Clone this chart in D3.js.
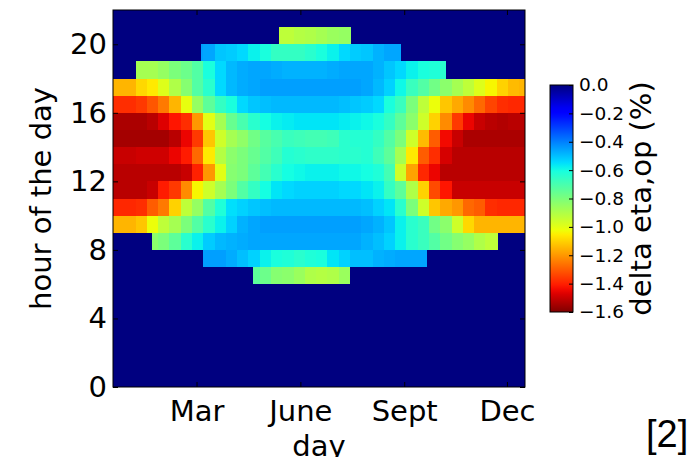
<!DOCTYPE html>
<html>
<head>
<meta charset="utf-8">
<script src="https://cdn.jsdelivr.net/npm/d3@7"></script>
<style>
  body { margin: 0; background: #fff; }
  svg text { font-family: "DejaVu Sans", sans-serif; fill: #000; }
</style>
</head>
<body>
<svg width="691" height="457"></svg>
<script>
// hour rows (each row spans hour .. hour+1)
var hours = [6, 7, 8, 9, 10, 11, 12, 13, 14, 15, 16, 17, 18, 19, 20];
// first / last day of the year where the hour has sun
var sunStart = [124, 80, 34.5, 0, 0, 0, 0, 0, 0, 0, 0, 0, 20.7, 78, 146.7];
var sunEnd   = [210, 278, 341, 365, 365, 365, 365, 365, 365, 365, 365, 365, 294.6, 255, 210.2];

// day bins (10-day columns)
var dayEdges = [0, 10, 20, 30, 40, 50, 60, 70, 80, 90, 100, 110, 120, 130, 140, 150, 160, 170, 180,
  190, 200, 210, 220, 230, 240, 250, 260, 270, 280, 290, 300, 310, 320, 330, 340, 350, 360, 365];

// delta eta,op (%) per hour row, one value per day bin (null = night)
var etaRows = [
  [null, null, null, null, null, null, null, null, null, null, null, null,
   -0.74, -0.77, -0.82, -0.83, -0.86, -0.90, -0.91, -0.90, -0.86,
   null, null, null, null, null, null, null, null, null, null, null, null, null, null, null, null],
  [null, null, null, null, null, null, null, null,
   -0.45, -0.45, -0.47, -0.50, -0.53, -0.58, -0.61, -0.62, -0.64, -0.62, -0.61, -0.56, -0.53, -0.50,
   -0.50, -0.48, -0.47, -0.46, -0.46, -0.46,
   null, null, null, null, null, null, null, null, null],
  [null, null, null,
   -0.83, -0.80, -0.74, -0.64, -0.58, -0.52, -0.49, -0.48, -0.47,
   -0.46, -0.46, -0.46, -0.46, -0.46, -0.46, -0.46, -0.46, -0.46, -0.46,
   -0.48, -0.50, -0.53, -0.58, -0.64, -0.67, -0.72, -0.78, -0.82, -0.85, -0.90, -0.93, -0.93,
   null, null],
  [-1.15, -1.15, -1.12, -1.02, -0.93, -0.88, -0.80, -0.72, -0.64, -0.58, -0.53, -0.48,
   -0.46, -0.45, -0.45, -0.45, -0.45, -0.45, -0.45, -0.45, -0.45, -0.45, -0.46,
   -0.48, -0.51, -0.58, -0.64, -0.67, -0.78, -0.83, -0.96, -1.09, -1.15, -1.15, -1.15, -1.15, -1.15],
  [-1.39, -1.39, -1.38, -1.30, -1.25, -1.10, -0.93, -0.85, -0.72, -0.62, -0.55, -0.53, -0.51, -0.50,
   -0.49, -0.49, -0.49, -0.49, -0.49, -0.49, -0.49, -0.49,
   -0.50, -0.53, -0.56, -0.64, -0.80, -0.96, -1.12, -1.17, -1.20, -1.28, -1.30, -1.38, -1.39, -1.39, -1.39],
  [-1.52, -1.52, -1.52, -1.50, -1.41, -1.36, -1.22, -1.04, -0.96, -0.88, -0.80, -0.72, -0.66, -0.60,
   -0.56, -0.54, -0.53, -0.53, -0.53, -0.53, -0.54, -0.54, -0.56, -0.58,
   -0.66, -0.74, -0.90, -1.10, -1.33, -1.42, -1.50, -1.50, -1.50, -1.50, -1.50, -1.50, -1.50],
  [-1.52, -1.52, -1.52, -1.52, -1.52, -1.52, -1.50, -1.40, -1.20, -1.00, -0.82, -0.80, -0.74, -0.69, -0.64,
   -0.60, -0.59, -0.58, -0.58, -0.58, -0.59, -0.59, -0.60,
   -0.62, -0.69, -0.96, -1.18, -1.39, -1.45, -1.52, -1.52, -1.52, -1.52, -1.52, -1.52, -1.52, -1.52],
  [-1.50, -1.50, -1.49, -1.49, -1.49, -1.45, -1.41, -1.28, -1.06, -0.91, -0.83, -0.80, -0.76, -0.72, -0.68,
   -0.63, -0.64, -0.65, -0.65, -0.65, -0.64, -0.64, -0.63,
   -0.68, -0.74, -0.88, -1.06, -1.30, -1.38, -1.48, -1.52, -1.52, -1.52, -1.52, -1.52, -1.52, -1.52],
  [-1.55, -1.55, -1.55, -1.55, -1.55, -1.52, -1.45, -1.36, -1.12, -0.96, -0.88, -0.84, -0.78, -0.73, -0.70,
   -0.67, -0.68, -0.69, -0.69, -0.68, -0.64, -0.63, -0.63,
   -0.66, -0.72, -0.80, -0.96, -1.14, -1.30, -1.44, -1.50, -1.54, -1.54, -1.54, -1.54, -1.54, -1.54],
  [-1.54, -1.54, -1.54, -1.52, -1.47, -1.42, -1.38, -1.20, -1.00, -0.88, -0.76, -0.70, -0.64,
   -0.60, -0.58, -0.57, -0.56, -0.56, -0.56, -0.56, -0.57, -0.58, -0.59,
   -0.61, -0.66, -0.74, -0.83, -0.96, -1.10, -1.22, -1.36, -1.45, -1.50, -1.52, -1.53, -1.52, -1.52],
  [-1.38, -1.38, -1.36, -1.31, -1.25, -1.15, -1.01, -0.85, -0.74, -0.66, -0.61, -0.54, -0.51, -0.50,
   -0.49, -0.49, -0.49, -0.49, -0.49, -0.49,
   -0.50, -0.51, -0.52, -0.54, -0.61, -0.67, -0.80, -0.93, -1.02, -1.12, -1.17, -1.22, -1.28, -1.34, -1.38, -1.39, -1.39],
  [-1.15, -1.15, -1.09, -1.06, -0.99, -0.90, -0.82, -0.72, -0.64, -0.54, -0.49, -0.47,
   -0.46, -0.45, -0.45, -0.45, -0.45, -0.45, -0.45, -0.45, -0.45, -0.45, -0.46,
   -0.49, -0.53, -0.59, -0.67, -0.72, -0.78, -0.83, -0.88, -0.93, -0.99, -1.04, -1.10, -1.14, -1.15],
  [null, null,
   -0.88, -0.88, -0.85, -0.80, -0.77, -0.72, -0.61, -0.54, -0.49, -0.47,
   -0.46, -0.46, -0.47, -0.48, -0.48, -0.48, -0.48, -0.47, -0.46, -0.46, -0.46,
   -0.48, -0.51, -0.54, -0.58, -0.61, -0.62, -0.64,
   null, null, null, null, null, null, null],
  [null, null, null, null, null, null, null,
   -0.45, -0.46, -0.51, -0.52, -0.54, -0.58, -0.61, -0.66, -0.66, -0.66, -0.64, -0.61, -0.58, -0.54,
   -0.52, -0.51, -0.48, -0.46, -0.46,
   null, null, null, null, null, null, null, null, null, null, null],
  [null, null, null, null, null, null, null, null, null, null, null, null, null, null,
   -0.93, -0.93, -0.91, -0.90, -0.88, -0.86, -0.85, -0.85,
   null, null, null, null, null, null, null, null, null, null, null, null, null, null, null]
];

var monthTicks = [74, 166, 258, 349];
var monthLabels = ["Mar", "June", "Sept", "Dec"];
var hourTicks = [0, 4, 8, 12, 16, 20];
var cbTicks = [0, -0.2, -0.4, -0.6, -0.8, -1.0, -1.2, -1.4, -1.6];

// matplotlib "jet"
var jr = d3.scaleLinear([0, 0.35, 0.66, 0.89, 1], [0, 0, 1, 1, 0.5]).clamp(true);
var jg = d3.scaleLinear([0, 0.125, 0.375, 0.64, 0.91, 1], [0, 0, 1, 1, 0, 0]).clamp(true);
var jb = d3.scaleLinear([0, 0.11, 0.34, 0.65, 1], [0.5, 1, 1, 0, 0]).clamp(true);
function jet(t) {
  return d3.rgb(255 * jr(t), 255 * jg(t), 255 * jb(t)).formatHex();
}
var norm = d3.scaleLinear([0, -1.6], [0, 1]).clamp(true);
var color = v => jet(norm(v));

var svg = d3.select("svg");
var x = d3.scaleLinear([0, 365], [113, 525]);
var y = d3.scaleLinear([0, 22], [387, 10]);

// night background
svg.append("rect")
  .attr("x", x(0)).attr("y", y(22))
  .attr("width", x(365) - x(0)).attr("height", y(0) - y(22))
  .attr("fill", color(0));

var cells = [];
hours.forEach(function(h, r) {
  etaRows[r].forEach(function(v, i) {
    if (v === null) return;
    var d0 = Math.max(dayEdges[i], sunStart[r]);
    var d1 = Math.min(dayEdges[i + 1], sunEnd[r]);
    if (d1 > d0) cells.push({h: h, d0: d0, d1: d1, v: v});
  });
});

svg.append("g")
  .selectAll("rect")
  .data(cells)
  .join("rect")
  .attr("x", d => x(d.d0))
  .attr("width", d => x(d.d1) - x(d.d0) + 0.4)
  .attr("y", d => y(d.h + 1))
  .attr("height", d => y(d.h) - y(d.h + 1))
  .attr("fill", d => color(d.v))
  .attr("shape-rendering", "crispEdges");

// axes, ticks pointing inward on all four sides
function style(g, size) {
  g.select(".domain").remove();
  g.selectAll("text").style("font-size", size + "px").attr("fill", "#000");
  g.selectAll("line").attr("stroke", "#000");
}
svg.append("g").attr("transform", "translate(0,387)")
  .call(d3.axisBottom(x).tickValues(monthTicks).tickFormat((d, i) => monthLabels[i])
    .tickSizeInner(-5).tickSizeOuter(0).tickPadding(13))
  .call(g => style(g, 29));
svg.append("g").attr("transform", "translate(0,10)")
  .call(d3.axisTop(x).tickValues(monthTicks).tickFormat("").tickSizeInner(-5).tickSizeOuter(0))
  .call(g => style(g, 29));
svg.append("g").attr("transform", "translate(113,0)")
  .call(d3.axisLeft(y).tickValues(hourTicks).tickSizeInner(-5).tickSizeOuter(0).tickPadding(6))
  .call(g => style(g, 29));
svg.append("g").attr("transform", "translate(525,0)")
  .call(d3.axisRight(y).tickValues(hourTicks).tickFormat("").tickSizeInner(-5).tickSizeOuter(0))
  .call(g => style(g, 29));

svg.append("rect")
  .attr("x", 113).attr("y", 10).attr("width", 412).attr("height", 377)
  .attr("fill", "none").attr("stroke", "#000").attr("stroke-width", 1);

svg.append("text")
  .attr("transform", "translate(51,198.5) rotate(-90)")
  .attr("text-anchor", "middle").style("font-size", "29px")
  .text("hour of the day");
svg.append("text")
  .attr("x", 319).attr("y", 456)
  .attr("text-anchor", "middle").style("font-size", "29px")
  .text("day");

// colorbar
var cb = d3.scaleLinear([-1.6, 0], [312, 85]);
var grad = svg.append("defs").append("linearGradient")
  .attr("id", "jetgrad").attr("x1", 0).attr("y1", 1).attr("x2", 0).attr("y2", 0);
grad.selectAll("stop")
  .data(d3.range(0, 1.0001, 0.02))
  .join("stop")
  .attr("offset", t => t)
  .attr("stop-color", t => color(-1.6 + 1.6 * t));
svg.append("rect")
  .attr("x", 550).attr("y", cb(0)).attr("width", 23).attr("height", cb(-1.6) - cb(0))
  .attr("fill", "url(#jetgrad)").attr("stroke", "#000").attr("stroke-width", 1);
svg.append("g").attr("transform", "translate(573,0)")
  .call(d3.axisRight(cb).tickValues(cbTicks).tickFormat(d3.format(".1f"))
    .tickSizeInner(-4).tickSizeOuter(0).tickPadding(6))
  .call(g => style(g, 18.5));
svg.append("text")
  .attr("transform", "translate(651,198.5) rotate(-90)")
  .attr("text-anchor", "middle").style("font-size", "29px")
  .text("delta eta,op (%)");

svg.append("text")
  .attr("x", 646).attr("y", 447)
  .style("font-family", "'Liberation Sans', Arial, sans-serif").style("font-size", "38px")
  .text("[2]");
</script>
</body>
</html>
